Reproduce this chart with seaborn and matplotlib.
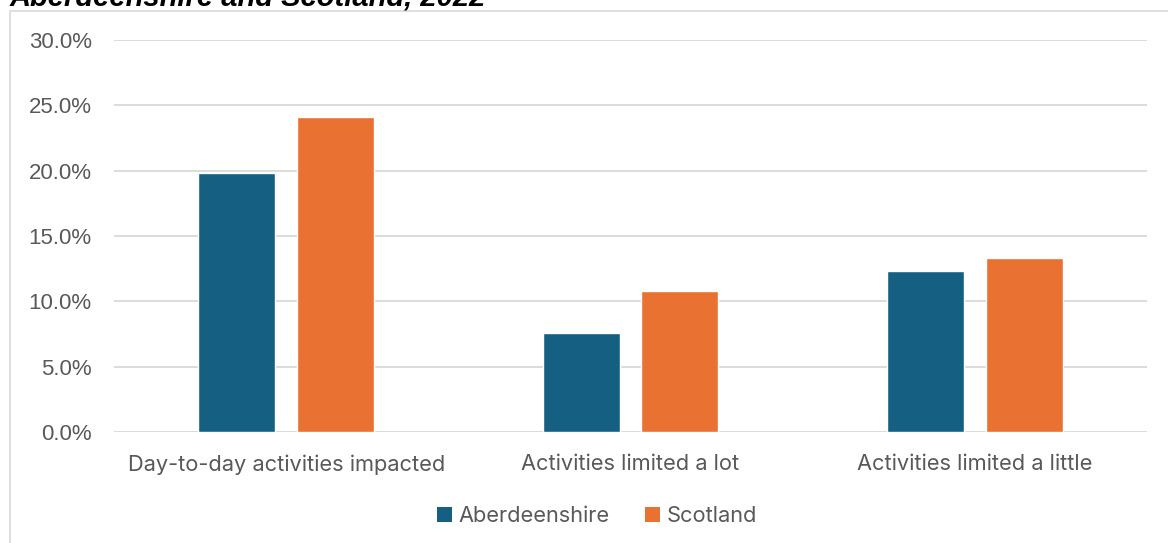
import matplotlib
matplotlib.use("Agg")
import matplotlib.pyplot as plt
import matplotlib.patches as mpatches
from matplotlib.ticker import PercentFormatter, MultipleLocator
import seaborn as sns
import pandas as pd

categories = ["Day-to-day activities impacted", "Activities limited a lot", "Activities limited a little"]
series_names = ["Aberdeenshire", "Scotland"]
aberdeenshire = [19.8, 7.6, 12.3]
scotland = [24.1, 10.8, 13.3]
colors = ["#156082", "#E97132"]
title = "Aberdeenshire and Scotland, 2022"

df = pd.DataFrame({
    "category": categories * 2,
    "area": [series_names[0]] * 3 + [series_names[1]] * 3,
    "value": aberdeenshire + scotland,
})

sns.set_theme(style="white")
plt.rcParams["font.family"] = ["Liberation Sans", "DejaVu Sans"]

fig = plt.figure(figsize=(11.68, 5.43), dpi=100)
ax = fig.add_axes([114 / 1168, 1 - 432 / 543, (1147 - 114) / 1168, (432 - 40) / 543])

sns.barplot(data=df, x="category", y="value", hue="area", order=categories,
            hue_order=series_names, palette=colors, width=0.573, gap=0.218,
            saturation=1, ax=ax, legend=False, zorder=3)

ax.set_ylim(0, 30)
ax.yaxis.set_major_locator(MultipleLocator(5))
ax.yaxis.set_major_formatter(PercentFormatter(decimals=1))
ax.grid(axis="y", color="#d9d9d9", linewidth=1.3, zorder=0)
ax.set_axisbelow(True)
for s in ax.spines.values():
    s.set_visible(False)
ax.tick_params(axis="both", length=0, labelcolor="#595959")
ax.tick_params(axis="y", pad=16, labelsize=16)
ax.tick_params(axis="x", pad=16, labelsize=15.7)
for lbl in ax.get_xticklabels():
    lbl.set_fontfamily(["Inter", "DejaVu Sans"])
ax.set_xlabel("")
ax.set_ylabel("")
ax.set_xlim(-0.5, 2.5)

# chart frame
frame = mpatches.Rectangle((10 / 1168, -0.1), 1.2, (1 - 11 / 543) + 0.1,
                           transform=fig.transFigure, fill=False,
                           edgecolor="#d9d9d9", linewidth=1.2)
fig.add_artist(frame)

# clipped title
fig.text(10 / 1168, 1 - 5 / 543, title, fontsize=21, fontweight="bold",
         fontstyle="italic", color="#000000", va="baseline", ha="left")

handles = [mpatches.Patch(facecolor=c, edgecolor="none") for c in colors]
fig.legend(handles, series_names, loc="center", bbox_to_anchor=(597 / 1168, 1 - 516 / 543),
           ncol=2, frameon=False, labelcolor="#595959",
           prop={"family": ["Inter", "DejaVu Sans"], "size": 15.7},
           handlelength=0.7, handleheight=0.7, handletextpad=0.3, columnspacing=1.6)

fig.savefig("out.png", dpi=100)
